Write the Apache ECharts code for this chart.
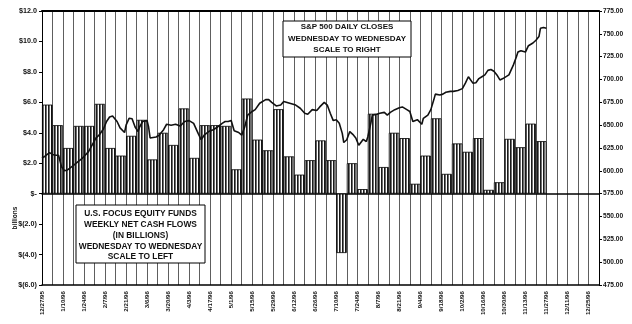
<!DOCTYPE html>
<html>
<head>
<meta charset="utf-8">
<script src="https://cdn.jsdelivr.net/npm/echarts@6/dist/echarts.min.js"></script>
<style>
  html, body { margin: 0; padding: 0; background: #fff; }
  #chart { width: 632px; height: 324px; }
</style>
</head>
<body>
<div id="chart"></div>
<script>
// Week-ending Wednesdays, 12/27/95 through 12/25/96
const weeks = ['12/27/95','1/3/96','1/10/96','1/17/96','1/24/96','1/31/96','2/7/96','2/14/96','2/21/96','2/28/96',
  '3/6/96','3/13/96','3/20/96','3/27/96','4/3/96','4/10/96','4/17/96','4/24/96','5/1/96','5/8/96','5/15/96',
  '5/22/96','5/29/96','6/5/96','6/12/96','6/19/96','6/26/96','7/3/96','7/10/96','7/17/96','7/24/96','7/31/96',
  '8/7/96','8/14/96','8/21/96','8/28/96','9/4/96','9/11/96','9/18/96','9/25/96','10/2/96','10/9/96','10/16/96',
  '10/23/96','10/30/96','11/6/96','11/13/96','11/20/96','11/27/96','12/4/96','12/11/96','12/18/96','12/25/96'];

// U.S. focus equity funds, weekly net cash flows ($ billions)
const flows = [5.85, 4.5, 3.0, 4.45, 4.45, 5.9, 3.0, 2.5, 3.8, 4.85, 2.25, 4.0, 3.2, 5.6, 2.35, 4.5,
  4.5, 4.45, 1.6, 6.25, 3.55, 2.85, 5.55, 2.45, 1.25, 2.2, 3.5, 2.2, -3.9, 2.0, 0.3, 5.25,
  1.75, 4.0, 3.65, 0.65, 2.5, 4.95, 1.3, 3.3, 2.75, 3.65, 0.25, 0.75, 3.6, 3.05, 4.6, 3.45];

// S&P 500 closes: days after 12/27/95, and close
const spxDay = [0,2,5,7,9,11,13,15,17,18,21,24,27,31,34,36,38,41,43,45,47,50,52,55,56,58,60,62,64,65,67,70,71,72,
  76,78,81,83,86,89,92,95,98,101,104,106,108,111,114,117,120,122,124,126,128,131,133,135,137,140,142,145,149,
  151,153,156,159,161,162,165,169,172,175,177,180,183,185,188,190,192,194,196,198,200,201,203,205,207,209,211,
  212,214,216,217,219,220,223,225,228,230,232,235,238,240,243,245,247,250,251,253,254,257,259,261,262,265,267,
  269,272,274,277,280,282,284,285,287,289,291,293,295,297,299,301,303,305,307,308,311,312,314,316,317,319,322,
  324,325,327,329,331,332,334,336];
const spxClose = [614,616,620,618,617,617,604.5,600,601,599,606,610,614,621,630,636,639,646,654,659,660,654,647,
  642,650,657.5,657,648,643,648,654,655,648,636,637,639,645,651,650,651,649,654,655,652,641,634,639,643,645,648,
  652,654,654,655,644,642,639,648,661,665,667,674,678,678,675,671,672,676,678,674,672,668.5,663,662,667,666,670,
  675,672,663,655,656,652,641,631,634,643,640,636,628,630,634.5,632,637,652,661,662,663,664,661,664,667,669,670,
  667,665,654,656,656,651,657.5,661,667,678,684,683,684,686,687,687,688,690,696,703,701,696,696.5,701,703,705,
  710,711,709,705,699.5,701,703,705,707,716,725,730,731.5,730,737,738,740,743,747,756,757,756];

const FONT = "'Liberation Sans', Arial, sans-serif";

// vertical hatching used to fill the flow bars
const hatch = document.createElement('canvas');
hatch.width = 3; hatch.height = 2;
(function () {
  const c = hatch.getContext('2d');
  c.fillStyle = '#ffffff'; c.fillRect(0, 0, 3, 2);
  c.fillStyle = '#1a1a1a'; c.fillRect(0, 0, 1, 2);
  c.fillStyle = '#6e6e6e'; c.fillRect(1, 0, 1, 2);
})();

const fmtLeft = v => v === 0 ? '$-' : (v < 0 ? '$(' + Math.abs(v).toFixed(1) + ')' : '$' + v.toFixed(1));
const totalDays = weeks.length * 7;

const chart = echarts.init(document.getElementById('chart'), null, { renderer: 'canvas' });
chart.setOption({
  animation: false,
  backgroundColor: '#fff',
  grid: { left: 42, right: 33, top: 11, bottom: 39, show: false },
  xAxis: [
    { // weekly categories for the bars; its line marks zero
      type: 'category', data: weeks, boundaryGap: true,
      axisLine: { show: true, onZero: true, lineStyle: { color: '#000', width: 1.5 } },
      axisTick: { show: false }, axisLabel: { show: false },
      splitLine: { show: true, interval: 0, lineStyle: { color: '#5e5e5e', width: 1 } }
    },
    { // day scale for the daily closes and the date labels
      type: 'value', min: 0, max: totalDays, interval: 14, position: 'bottom',
      axisLine: { show: true, onZero: false, lineStyle: { color: '#000', width: 1.5 } },
      axisTick: { show: false }, splitLine: { show: false },
      axisLabel: {
        rotate: 90, margin: 6, fontSize: 6.2, fontWeight: 'bold', fontFamily: FONT, color: '#111',
        showMaxLabel: false,
        formatter: v => (v % 14 === 0 && weeks[v / 7]) ? weeks[v / 7] : ''
      }
    },
    { // top frame
      type: 'value', min: 0, max: 1, position: 'top',
      axisLine: { show: true, onZero: false, lineStyle: { color: '#000', width: 2 } },
      axisTick: { show: false }, axisLabel: { show: false }, splitLine: { show: false }
    }
  ],
  yAxis: [
    {
      type: 'value', min: -6, max: 12, interval: 2, position: 'left',
      axisLine: { show: true, onZero: false, lineStyle: { color: '#000', width: 1 } },
      axisTick: { show: true, length: 3, lineStyle: { color: '#000' } },
      splitLine: { show: false },
      axisLabel: { formatter: fmtLeft, fontSize: 7.2, fontWeight: 'bold', fontFamily: FONT, color: '#111', margin: 5 }
    },
    {
      type: 'value', min: 475, max: 775, interval: 25, position: 'right',
      axisLine: { show: true, onZero: false, lineStyle: { color: '#000', width: 1 } },
      axisTick: { show: true, length: 3, lineStyle: { color: '#000' } },
      splitLine: { show: false },
      axisLabel: { formatter: v => v.toFixed(2), fontSize: 6.6, fontWeight: 'bold', fontFamily: FONT, color: '#111', margin: 4 }
    }
  ],
  series: [
    {
      name: 'Net cash flows', type: 'bar', xAxisIndex: 0, yAxisIndex: 0,
      data: flows, barCategoryGap: '0%',
      itemStyle: { color: { image: hatch, repeat: 'repeat' }, borderColor: '#000', borderWidth: 0.8 },
      z: 2
    },
    {
      name: 'S&P 500', type: 'line', xAxisIndex: 1, yAxisIndex: 1,
      data: spxDay.map((d, i) => [d, spxClose[i]]),
      symbol: 'none', smooth: false,
      lineStyle: { color: '#111', width: 1.6 },
      z: 5
    }
  ],
  graphic: [
    {
      type: 'text', x: 15, y: 218, rotation: Math.PI / 2, z: 100,
      style: { text: 'billions', fontSize: 6.5, fontWeight: 'bold', fontFamily: FONT, fill: '#111', align: 'center', verticalAlign: 'middle' }
    },
    {
      type: 'rect', z: 100, shape: { x: 283, y: 21, width: 128, height: 36 },
      style: { fill: '#ffffff', stroke: '#000', lineWidth: 1 }
    },
    {
      type: 'text', z: 101, x: 347, y: 21.5,
      style: { text: 'S&P 500 DAILY CLOSES\nWEDNESDAY TO WEDNESDAY\nSCALE TO RIGHT',
        fontSize: 8, fontWeight: 'bold', fontFamily: FONT, fill: '#111',
        align: 'center', verticalAlign: 'top', lineHeight: 11.3 }
    },
    {
      type: 'rect', z: 100, shape: { x: 76, y: 205, width: 129, height: 58 },
      style: { fill: '#ffffff', stroke: '#000', lineWidth: 1 }
    },
    {
      type: 'text', z: 101, x: 140.5, y: 208.5,
      style: { text: 'U.S. FOCUS EQUITY FUNDS\nWEEKLY NET CASH FLOWS\n(IN BILLIONS)\nWEDNESDAY TO WEDNESDAY\nSCALE TO LEFT',
        fontSize: 8.4, fontWeight: 'bold', fontFamily: FONT, fill: '#111',
        align: 'center', verticalAlign: 'top', lineHeight: 10.8 }
    }
  ]
});
</script>
</body>
</html>
